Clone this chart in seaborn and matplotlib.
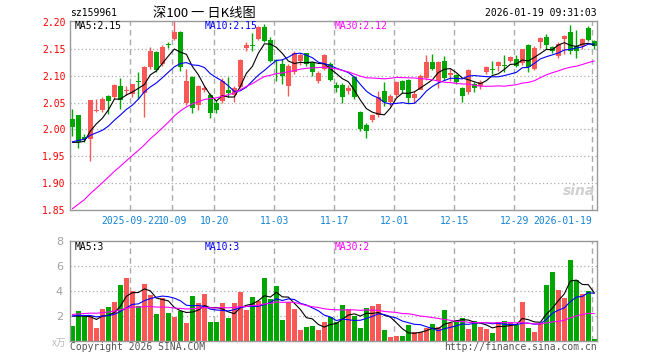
import numpy as np
import pandas as pd
import matplotlib
matplotlib.use("Agg")
import matplotlib.pyplot as plt
import seaborn as sns

# ------------------------------------------------------------------
# Data: 深100 (sz159961) daily candles, 88 sessions up to 2026-01-19
# ------------------------------------------------------------------
opens = [2.019, 2.026, 1.986, 1.982, 2.034, 2.036, 2.063, 2.060, 2.081, 2.072,
         2.066, 2.091, 2.068, 2.116, 2.144, 2.121, 2.159, 2.169, 2.182, 2.050,
         2.097, 2.045, 2.074, 2.065, 2.050, 2.053, 2.073, 2.064, 2.079, 2.151,
         2.157, 2.169, 2.191, 2.166, 2.130, 2.122, 2.080, 2.107, 2.128, 2.142,
         2.125, 2.091, 2.112, 2.121, 2.083, 2.083, 2.071, 2.097, 2.032, 2.008,
         2.018, 2.027, 2.072, 2.052, 2.064, 2.091, 2.092, 2.058, 2.074, 2.095,
         2.126, 2.091, 2.127, 2.101, 2.101, 2.077, 2.070, 2.085, 2.080, 2.107,
         2.113, 2.118, 2.120, 2.127, 2.132, 2.124, 2.157, 2.113, 2.162, 2.173,
         2.154, 2.136, 2.168, 2.182, 2.156, 2.156, 2.188, 2.165]
highs = [2.038, 2.027, 1.991, 2.055, 2.057, 2.060, 2.064, 2.085, 2.095, 2.080,
         2.085, 2.107, 2.118, 2.153, 2.147, 2.158, 2.163, 2.202, 2.183, 2.113,
         2.100, 2.082, 2.080, 2.068, 2.054, 2.096, 2.098, 2.080, 2.131, 2.163,
         2.179, 2.192, 2.196, 2.172, 2.132, 2.131, 2.122, 2.147, 2.142, 2.143,
         2.126, 2.108, 2.140, 2.125, 2.088, 2.086, 2.082, 2.100, 2.034, 2.012,
         2.029, 2.072, 2.089, 2.066, 2.090, 2.093, 2.094, 2.072, 2.104, 2.138,
         2.140, 2.128, 2.137, 2.112, 2.104, 2.079, 2.112, 2.088, 2.092, 2.118,
         2.128, 2.128, 2.139, 2.137, 2.138, 2.150, 2.160, 2.155, 2.172, 2.177,
         2.156, 2.162, 2.175, 2.195, 2.185, 2.170, 2.193, 2.166]
lows = [1.988, 1.965, 1.976, 1.941, 2.032, 2.032, 2.029, 2.057, 2.038, 2.064,
        2.061, 2.056, 2.024, 2.113, 2.107, 2.118, 2.151, 2.166, 2.108, 2.045,
        2.030, 2.036, 2.070, 2.022, 2.031, 2.050, 2.060, 2.051, 2.077, 2.147,
        2.146, 2.166, 2.162, 2.125, 2.091, 2.084, 2.062, 2.104, 2.120, 2.118,
        2.100, 2.086, 2.110, 2.090, 2.069, 2.050, 2.066, 2.057, 1.998, 1.984,
        2.014, 2.024, 2.043, 2.044, 2.061, 2.068, 2.050, 2.050, 2.075, 2.092,
        2.110, 2.078, 2.093, 2.090, 2.085, 2.051, 2.066, 2.070, 2.076, 2.104,
        2.103, 2.108, 2.107, 2.125, 2.116, 2.120, 2.107, 2.110, 2.152, 2.150,
        2.142, 2.133, 2.140, 2.140, 2.133, 2.150, 2.165, 2.150]
closes = [2.004, 1.976, 1.982, 2.054, 2.036, 2.057, 2.053, 2.082, 2.055, 2.074,
          2.084, 2.088, 2.117, 2.146, 2.110, 2.154, 2.157, 2.182, 2.116, 2.091,
          2.040, 2.080, 2.078, 2.030, 2.037, 2.090, 2.067, 2.078, 2.129, 2.158,
          2.155, 2.190, 2.165, 2.127, 2.127, 2.099, 2.119, 2.142, 2.138, 2.122,
          2.107, 2.106, 2.138, 2.092, 2.077, 2.060, 2.077, 2.060, 2.000, 1.997,
          2.027, 2.060, 2.052, 2.063, 2.089, 2.074, 2.058, 2.066, 2.099, 2.126,
          2.113, 2.126, 2.096, 2.106, 2.088, 2.063, 2.110, 2.077, 2.088, 2.116,
          2.111, 2.126, 2.118, 2.135, 2.119, 2.149, 2.116, 2.152, 2.171, 2.157,
          2.146, 2.160, 2.174, 2.147, 2.146, 2.168, 2.167, 2.156]
# volume in 万手
volumes = [1.17, 2.37, 1.97, 1.97, 1.01, 2.53, 2.69, 3.09, 4.45, 5.01,
           3.97, 2.77, 4.53, 3.65, 2.13, 3.41, 2.21, 1.89, 2.37, 1.41,
           3.57, 3.01, 3.73, 1.49, 1.49, 3.01, 1.81, 3.01, 3.89, 2.45,
           3.49, 3.17, 5.01, 3.33, 4.37, 1.65, 3.09, 2.53, 0.85, 1.09,
           1.17, 0.85, 1.49, 1.89, 1.50, 2.85, 2.53, 1.97, 1.01, 2.61,
           2.77, 2.93, 0.85, 0.29, 0.37, 0.37, 1.25, 0.69, 0.69, 1.01,
           1.33, 1.09, 2.45, 1.42, 1.65, 1.81, 0.93, 1.57, 1.09, 0.93,
           0.61, 1.49, 1.57, 1.49, 1.25, 3.09, 1.01, 0.69, 1.33, 4.45,
           5.49, 4.05, 3.41, 6.45, 4.85, 3.73, 3.97, 0.13]

# sessions before the window, only used to warm up the moving averages
prev_close = [1.72, 1.73, 1.71, 1.74, 1.75, 1.74, 1.76, 1.77, 1.77, 1.79,
              1.80, 1.81, 1.80, 1.82, 1.84, 1.84, 1.825, 1.845, 1.865, 1.875,
              1.95, 1.96, 1.98, 1.99, 2.01, 1.976, 1.972, 1.958, 1.970]
prev_volume = [1.0, 1.2, 0.9, 1.3, 1.1, 1.2, 1.0, 1.3, 1.1, 1.2,
               2.8, 3.5, 3.0, 3.9, 3.2, 2.9, 3.6, 3.4, 2.7, 3.0,
               1.8, 2.1, 1.9, 2.2, 1.85, 2.37, 1.97, 2.22, 2.12]

tick_pos = [10, 17, 24, 34, 44, 54, 64, 74, 87]
tick_labels = ["2025-09-22", "10-09", "10-20", "11-03", "11-17",
               "12-01", "12-15", "12-29", "2026-01-19"]
price_ticks = [1.85, 1.90, 1.95, 2.00, 2.05, 2.10, 2.15, 2.20]
vol_ticks = [2, 4, 6, 8]

# ------------------------------------------------------------------
# Styling
# ------------------------------------------------------------------
sns.set_style("white")
plt.rcParams["font.family"] = ["DejaVu Sans Mono", "Noto Sans CJK SC"]

UP = "#fa5757"
DOWN = "#00a600"
GRID = "#aaaaaa"
MONO = "DejaVu Sans Mono"
CJK = ["Noto Sans CJK SC", "DejaVu Sans"]
W, H = 660, 360


def fx(x):
    return x / W


def fy(y):
    return 1 - y / H


n = len(closes)
idx = np.arange(n)
df = pd.DataFrame({"open": opens, "high": highs, "low": lows,
                   "close": closes, "volume": volumes})
df["color"] = np.where(df["close"] >= df["open"], UP, DOWN)

full_close = pd.Series(prev_close + closes)
full_vol = pd.Series(prev_volume + volumes)
k = len(prev_close)
for w in (5, 10, 30):
    df[f"ma{w}"] = full_close.rolling(w).mean().iloc[k:].to_numpy()
    df[f"vma{w}"] = full_vol.rolling(w).mean().iloc[k:].to_numpy()

fig = plt.figure(figsize=(W / 100, H / 100), dpi=100)
fig.patch.set_facecolor("white")

ax_p = fig.add_axes([fx(70), fy(210), fx(527), (210 - 20.7) / H])
ax_v = fig.add_axes([fx(70), fy(340.7), fx(527), 100 / H])

xlim = (-0.4, 87.45)
ma_colors = {"5": "black", "10": "#0000ff", "30": "#ff00ff"}

# ------------------------------------------------------------------
# Price panel
# ------------------------------------------------------------------
ax = ax_p
ax.set_xlim(*xlim)
ax.set_ylim(1.85, 2.2025)
for t in price_ticks[1:-1]:
    ax.axhline(t, color=GRID, lw=0.9, ls=(0, (1, 2)), zorder=0)
for t in tick_pos:
    ax.axvline(t - 0.35, color=GRID, lw=1, ls=(0, (4, 3)), zorder=0)

ax.vlines(idx, df["low"], df["high"], colors=df["color"], lw=1, zorder=2)
body = (df["close"] - df["open"]).abs().clip(lower=0.0012)
ax.bar(idx, body, bottom=df[["open", "close"]].min(axis=1), width=0.8,
       color=df["color"], linewidth=0, zorder=3)

for w, c in ma_colors.items():
    sns.lineplot(x=idx, y=df[f"ma{w}"], ax=ax, color=c, linewidth=0.8, zorder=4)

ax.set_yticks(price_ticks)
ax.set_yticklabels([f"{t:.2f}" for t in price_ticks], color="#ff0000",
                   fontsize=7, family=MONO)
ax.set_xticks([])
ax.set_xlabel("")
ax.set_ylabel("")
ax.tick_params(axis="y", length=0, pad=3)

trans = ax.get_xaxis_transform()
for i, (p, lab) in enumerate(zip(tick_pos, tick_labels)):
    ha = "right" if i == len(tick_pos) - 1 else "center"
    ax.text(p - 0.35, -0.058, lab, transform=trans, ha=ha, va="center",
            color="#1584d6", fontsize=7, family=MONO)

ax.text(0.008, 0.972, "MA5:2.15", transform=ax.transAxes, ha="left", va="center",
        fontsize=7, family=MONO, color=ma_colors["5"])
ax.text(0.255, 0.972, "MA10:2.15", transform=ax.transAxes, ha="left", va="center",
        fontsize=7, family=MONO, color=ma_colors["10"])
ax.text(0.503, 0.972, "MA30:2.12", transform=ax.transAxes, ha="left", va="center",
        fontsize=7, family=MONO, color=ma_colors["30"])
ax.text(0.965, 0.10, "sina", transform=ax.transAxes, ha="center", va="center",
        fontsize=10, fontweight="bold", style="italic", color="#cfcfcf",
        family="DejaVu Sans")

# ------------------------------------------------------------------
# Volume panel
# ------------------------------------------------------------------
ax = ax_v
ax.set_xlim(*xlim)
ax.set_ylim(0, 8)
for t in vol_ticks[:-1]:
    ax.axhline(t, color=GRID, lw=0.9, ls=(0, (1, 2)), zorder=0)
for t in tick_pos:
    ax.axvline(t - 0.35, color=GRID, lw=1, ls=(0, (4, 3)), zorder=0)

ax.bar(idx, df["volume"], width=0.8, color=df["color"], linewidth=0, zorder=2)
for w, c in ma_colors.items():
    sns.lineplot(x=idx, y=df[f"vma{w}"], ax=ax, color=c, linewidth=0.8, zorder=4)

ax.set_yticks(vol_ticks)
ax.set_yticklabels([str(t) for t in vol_ticks], color="#a0a0a0",
                   fontsize=8, family="DejaVu Sans")
ax.set_xticks([])
ax.set_xlabel("")
ax.set_ylabel("")
ax.tick_params(axis="y", length=0, pad=5)

ax.text(0.008, 0.94, "MA5:3", transform=ax.transAxes, ha="left", va="center",
        fontsize=7, family=MONO, color=ma_colors["5"])
ax.text(0.255, 0.94, "MA10:3", transform=ax.transAxes, ha="left", va="center",
        fontsize=7, family=MONO, color=ma_colors["10"])
ax.text(0.503, 0.94, "MA30:2", transform=ax.transAxes, ha="left", va="center",
        fontsize=7, family=MONO, color=ma_colors["30"])

for a in (ax_p, ax_v):
    for s in a.spines.values():
        s.set_color("#999999")
        s.set_linewidth(1)

# ------------------------------------------------------------------
# Header / footer texts
# ------------------------------------------------------------------
fig.text(fx(70), fy(13), "sz159961", ha="left", va="center",
         fontsize=7, family=MONO, color="black")
fig.text(fx(204), fy(13), "深100 一 日K线图", ha="center", va="center",
         fontsize=9.5, family=CJK, color="black")
fig.text(fx(597), fy(13), "2026-01-19 09:31:03", ha="right", va="center",
         fontsize=7, family=MONO, color="black")
fig.text(fx(66), fy(343), "x万", ha="right", va="center", fontsize=7,
         family=CJK, color="#bbbbbb")
fig.text(fx(70), fy(347), "Copyright 2026 SINA.COM", ha="left", va="center",
         fontsize=7, family=MONO, color="#555555")
fig.text(fx(597), fy(347), "http://finance.sina.com.cn", ha="right", va="center",
         fontsize=7, family=MONO, color="#555555")

fig.savefig("out.png", dpi=100, facecolor="white")
plt.close(fig)
